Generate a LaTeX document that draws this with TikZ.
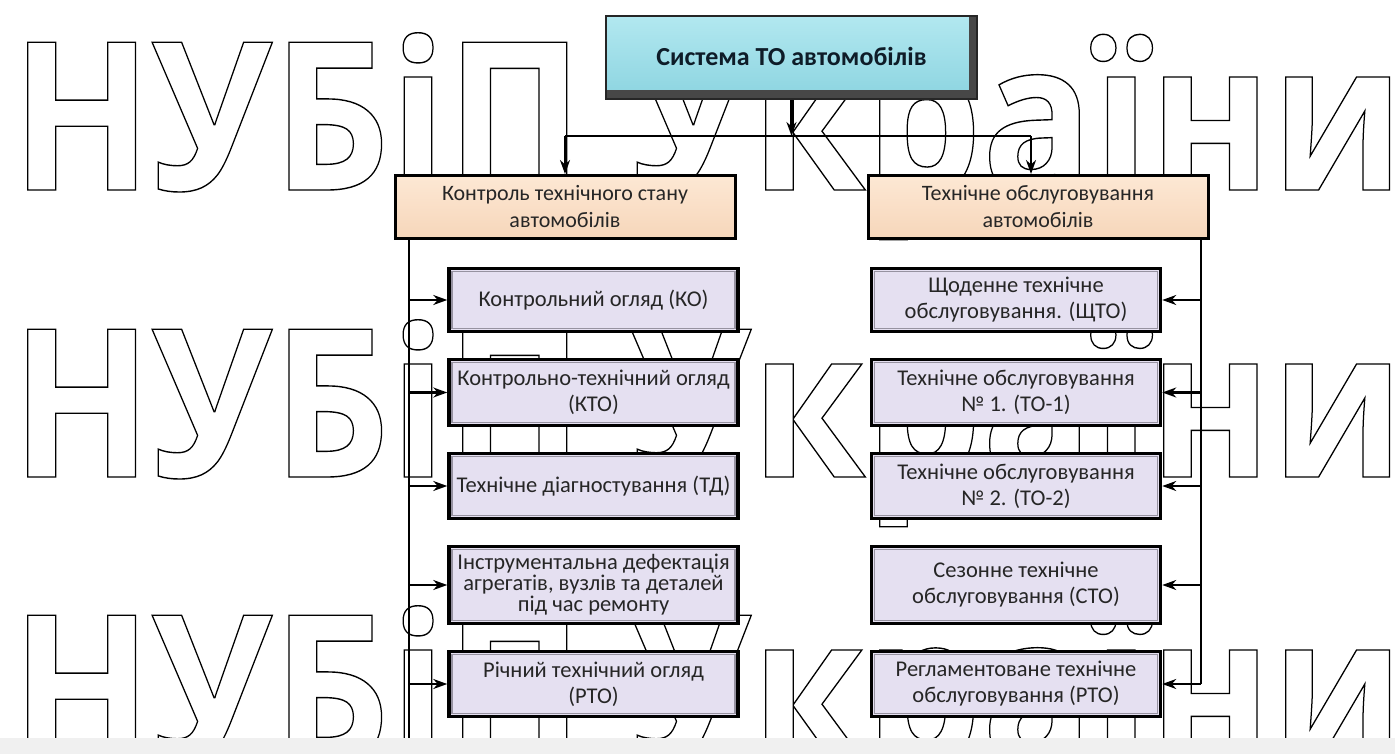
\documentclass[tikz,border=0pt]{standalone}
\usepackage{fontspec}
\setmainfont{Carlito}
\newfontfamily\wmfont{Open Sans}
\usetikzlibrary{arrows.meta}

\definecolor{lav}{RGB}{229,224,241}
\definecolor{lavedge}{RGB}{150,146,160}
\definecolor{peachtop}{RGB}{253,232,212}
\definecolor{peachbot}{RGB}{246,214,186}
\definecolor{cyantop}{RGB}{178,232,240}
\definecolor{cyanbot}{RGB}{140,212,224}
\definecolor{titletext}{RGB}{14,28,40}

% outlined watermark line (stroke-only text rendering)
\newsavebox\wmbox
\newcommand\wmline{\special{pdf:literal direct 1 Tr 1.4 w}\scalebox{\wmx}[1]{\usebox\wmbox}\special{pdf:literal direct 0 Tr}}

\tikzset{
  conn/.style={draw=black, line width=2.2pt},
  arr/.style={conn, -{Stealth[length=14pt,width=10pt]}},
  hdr/.style={draw=black, line width=3pt, top color=peachtop, bottom color=peachbot,
    minimum width=340pt, minimum height=63pt, align=center, inner sep=2pt,
    font=\fontsize{22}{27}\selectfont, text=black!85},
  itm/.style={draw=black, line width=3.5pt, fill=lav, minimum width=289pt,
    align=center, inner sep=1pt, font=\fontsize{22.5}{26}\selectfont, text=black!85,
    path picture={\draw[lavedge, line width=1.6pt]
      ([shift={(3pt,-3pt)}]path picture bounding box.north west) rectangle
      ([shift={(-3pt,3pt)}]path picture bounding box.south east);}},
  ttl/.style={draw=black!85, line width=2pt, top color=cyantop, bottom color=cyanbot,
    minimum width=371pt, minimum height=83pt, align=center,
    font=\fontsize{26}{30}\bfseries\selectfont, text=titletext,
    path picture={
      \fill[black!72] (path picture bounding box.south west) rectangle
        ([yshift=9pt]path picture bounding box.south east);
      \fill[black!72] ([xshift=-8pt]path picture bounding box.south east) rectangle
        (path picture bounding box.north east);}},
  wm/.style={anchor=base west, inner sep=0pt, text=black!80},
}

\begin{document}
\sbox\wmbox{\wmfont\bfseries\fontsize{207}{207}\selectfont НУБіП України}%
\pgfmathsetmacro\wmx{1393/\wd\wmbox}%
\begin{tikzpicture}[x=1pt, y=-1pt]
\useasboundingbox (0,0) rectangle (1395,754);
\fill[white] (0,0) rectangle (1395,754);

% watermark rows
\node[wm] (wm1) at (11,190) {\wmline};
\node[wm] (wm2) at (11,477) {\wmline};
\node[wm] (wm3) at (11,763) {\wmline};

% top of the hierarchy
\node[ttl] (sys) at (791.5,57.5) {\raisebox{3pt}{Система ТО автомобілів}};
\node[hdr] (lh) at (565,207) {Контроль технічного стану\\автомобілів};
\node[hdr] (rh) at (1038,207) {Технічне обслуговування\\автомобілів};

% control branch
\node[itm, minimum height=63pt] (k1) at (593.5,300)   {Контрольний огляд (КО)};
\node[itm, minimum height=66pt] (k2) at (593.5,392.5) {Контрольно-технічний огляд\\(КТО)};
\node[itm, minimum height=65pt] (k3) at (593.5,486)   {Технічне діагностування (ТД)};
\node[itm, minimum height=77pt, font=\fontsize{22.5}{21}\selectfont] (k4) at (593.5,585)
  {Інструментальна дефектація\\агрегатів, вузлів та деталей\\під час ремонту};
\node[itm, minimum height=65pt] (k5) at (593.5,684)   {Річний технічний огляд\\(РТО)};

% maintenance branch
\node[itm, minimum height=63pt] (t1) at (1016,300)   {Щоденне технічне\\обслуговування. (ЩТО)};
\node[itm, minimum height=66pt] (t2) at (1016,392.5) {Технічне обслуговування\\№ 1. (ТО-1)};
\node[itm, minimum height=65pt] (t3) at (1016,486)   {Технічне обслуговування\\№ 2. (ТО-2)};
\node[itm, minimum height=77pt] (t4) at (1016,585)   {Сезонне технічне\\обслуговування (СТО)};
\node[itm, minimum height=65pt] (t5) at (1016,684)   {Регламентоване технічне\\обслуговування (РТО)};

% bus under the title
\coordinate (bus) at (0,136);
\coordinate (rin) at ([xshift=-7pt]rh.north);
\draw[arr] (sys.south) -- (sys.south |- bus);
\draw[conn] (lh.north |- bus) -- (rin |- bus);
\draw[arr] (lh.north |- bus) -- (lh.north);
\draw[arr] (rin |- bus) -- (rin);

% left spine
\coordinate (ls) at (409,0);
\coordinate (lend) at (409,754);
\draw[conn] (lh.south -| ls) -- (lend);
\foreach \b in {k1,k2,k3,k4,k5}
  \draw[arr] (\b.west -| ls) -- (\b.west);

% right spine
\coordinate (rs) at (1201,0);
\draw[conn] (rh.south -| rs) -- (t5.east -| rs);
\foreach \b in {t1,t2,t3,t4,t5}
  \draw[arr] (\b.east -| rs) -- (\b.east);

% strip along the lower edge
\fill[black!6] (0,738) rectangle (1395,754);
\end{tikzpicture}
\end{document}
